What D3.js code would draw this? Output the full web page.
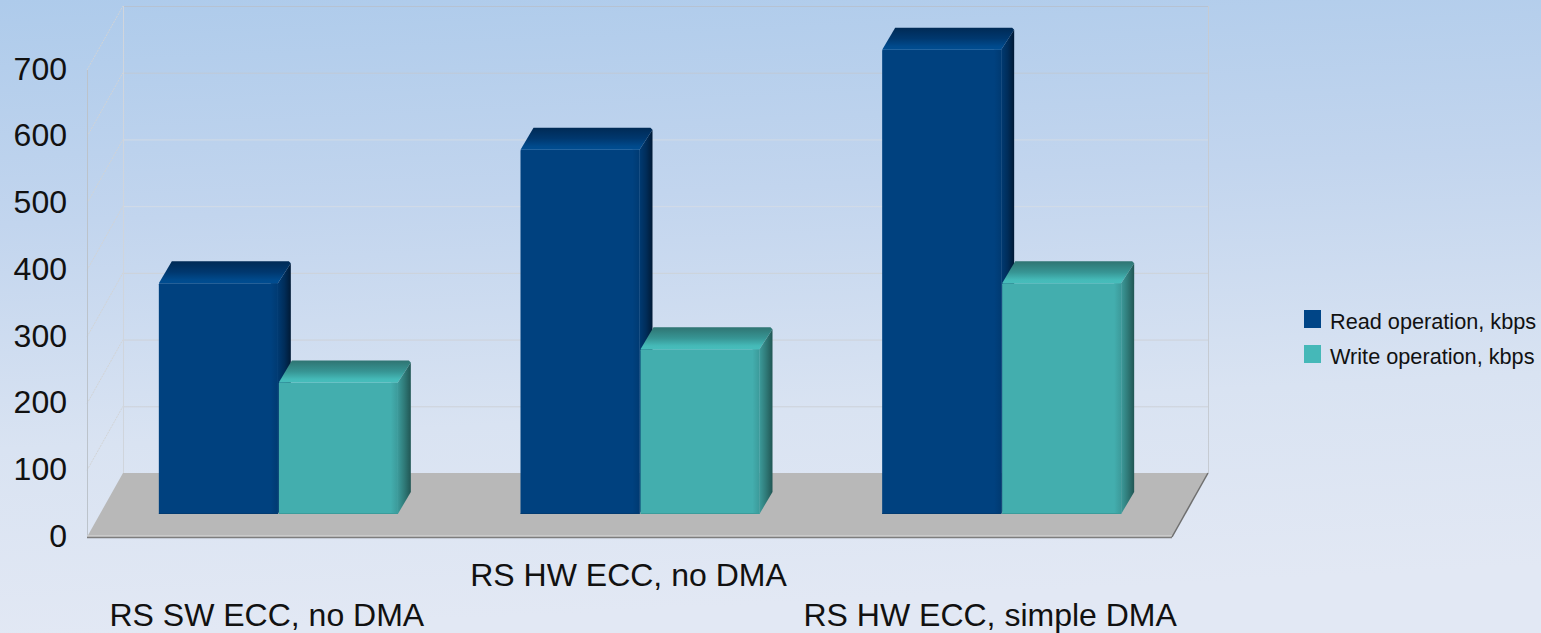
<!DOCTYPE html>
<html>
<head>
<meta charset="utf-8">
<script src="https://cdn.jsdelivr.net/npm/d3@7"></script>
<style>
html,body{margin:0;padding:0;overflow:hidden;background:#dfe7f3}
svg{display:block}
text{font-family:"Liberation Sans",Arial,sans-serif;fill:#111}
</style>
</head>
<body>
<script>
const categories = ["RS SW ECC, no DMA", "RS HW ECC, no DMA", "RS HW ECC, simple DMA"];
const seriesNames = ["Read operation, kbps", "Write operation, kbps"];
const readValues = [346, 546, 696];
const writeValues = [197, 247, 346];
const yTicks = [0, 100, 200, 300, 400, 500, 600, 700];

const W = 1541, H = 633;
const svg = d3.select("body").append("svg").attr("width", W).attr("height", H);
const defs = svg.append("defs");

// Layout of the box: front plane, wall depth and bar depth
const plot = {left: 87, right: 1172, bottom: 537, top: 70};
const wall = {dx: 36, dy: -64};
const bar = {inset: 12, rise: 23, dx: 13, dy: -22, groupWidth: 240, bevel: 7};

const y = d3.scaleLinear().domain([0, 700]).range([plot.bottom, plot.top]);
const x0 = d3.scaleBand().domain(categories).range([plot.left, plot.right]);
const x1 = d3.scaleBand().domain(seriesNames).range([0, bar.groupWidth]);
const barBase = plot.bottom - bar.rise;
const barH = v => y(0) - y(v);

function grad(id, x2, y2, stops) {
  const g = defs.append("linearGradient").attr("id", id)
    .attr("x1", 0).attr("y1", 0).attr("x2", x2).attr("y2", y2);
  stops.forEach(([o, c]) => g.append("stop").attr("offset", o).attr("stop-color", c));
}
grad("bg", 0.12, 1, [[0, "#aecbeb"], [0.35, "#c2d5ee"], [0.7, "#d9e3f2"], [1, "#e2e8f4"]]);
grad("readTop", 0, 1, [[0, "#002a55"], [0.5, "#00386f"], [0.85, "#004a8c"], [1, "#004c90"]]);
grad("readBevel", 1, 0, [[0, "#00417f"], [1, "#003a72"]]);
grad("readSide", 1, 0, [[0, "#003a72"], [0.5, "#002d5a"], [1, "#001a36"]]);
grad("writeTop", 0, 1, [[0, "#2f7472"], [0.5, "#379594"], [0.85, "#45bab8"], [1, "#47bdbb"]]);
grad("writeBevel", 1, 0, [[0, "#43aeae"], [1, "#3c9a9a"]]);
grad("writeSide", 1, 0, [[0, "#3c9a9a"], [0.5, "#2f7a78"], [1, "#215654"]]);

const palette = [
  {front: "#00417f", top: "url(#readTop)", side: "url(#readSide)", bevel: "url(#readBevel)", swatch: "#004587", edge: "#013a70"},
  {front: "#43aeae", top: "url(#writeTop)", side: "url(#writeSide)", bevel: "url(#writeBevel)", swatch: "#45b8b8", edge: "#3a9c9b"}
];

svg.append("rect").attr("width", W).attr("height", H).attr("fill", "url(#bg)");

// Walls and grid; the upper lines read darker against the deeper blue
const gridColor = d => d === 700 ? "#b6c2d2" : d === 600 ? "#bfc9d6" : d >= 400 ? "#d3dbe6" : "#cdd2d9";
const grid = svg.append("g").attr("fill", "none");
grid.selectAll("line.back").data(yTicks.slice(1)).join("line")
  .attr("x1", plot.left + wall.dx).attr("x2", plot.right + wall.dx)
  .attr("y1", d => y(d) + wall.dy + 0.5).attr("y2", d => y(d) + wall.dy + 0.5)
  .attr("stroke", gridColor);
grid.selectAll("line.side").data(yTicks.slice(1)).join("line")
  .attr("x1", plot.left).attr("x2", plot.left + wall.dx)
  .attr("y1", d => y(d)).attr("y2", d => y(d) + wall.dy)
  .attr("stroke", "#d2d4d6").attr("stroke-dasharray", "2 1");
[[plot.left + 0.5, y(0), y(700), "#bcc3cb"],
 [plot.left + wall.dx + 0.5, y(0) + wall.dy, y(700) + wall.dy, "#d0d5dc"],
 [plot.right + wall.dx + 0.5, y(0) + wall.dy, y(700) + wall.dy, "#c6cbd2"]].forEach(([px, a, b, c]) => {
  grid.append("line").attr("x1", px).attr("x2", px).attr("y1", a).attr("y2", b).attr("stroke", c);
});

// Floor
const floor = [[plot.left, y(0)], [plot.left + wall.dx, y(0) + wall.dy],
               [plot.right + wall.dx, y(0) + wall.dy], [plot.right, y(0)]];
svg.append("polygon").attr("points", floor.join(" ")).attr("fill", "#b8b8b8");
svg.append("line").attr("x1", plot.left).attr("x2", plot.right).attr("y1", y(0) - 1).attr("y2", y(0) - 1)
  .attr("stroke", "#dcdcdc").attr("stroke-width", 1);
svg.append("line").attr("x1", plot.left).attr("x2", plot.right).attr("y1", y(0) + 0.5).attr("y2", y(0) + 0.5)
  .attr("stroke", "#7d7d7d").attr("stroke-width", 1.5);
svg.append("line").attr("x1", plot.right).attr("x2", plot.right + wall.dx)
  .attr("y1", y(0)).attr("y2", y(0) + wall.dy)
  .attr("stroke", "#6f6f6f").attr("stroke-width", 1.5);

// Bars
const rows = categories.flatMap((c, i) => [
  {c, s: seriesNames[0], v: readValues[i], k: 0},
  {c, s: seriesNames[1], v: writeValues[i], k: 1}
]);
const barLeft = d => x0(d.c) + (x0.bandwidth() - bar.groupWidth) / 2 + bar.inset + x1(d.s) - 1;
const barRight = d => barLeft(d) + x1.bandwidth() - 1;
const barTop = d => barBase - barH(d.v);

const bars = svg.append("g").selectAll("g").data(rows).join("g");
bars.append("rect")
  .attr("x", barLeft).attr("y", barTop)
  .attr("width", d => barRight(d) - barLeft(d)).attr("height", d => barBase - barTop(d))
  .attr("rx", 1).attr("fill", d => palette[d.k].front);
bars.append("rect")
  .attr("x", d => barRight(d) - bar.bevel).attr("y", barTop)
  .attr("width", bar.bevel).attr("height", d => barBase - barTop(d))
  .attr("fill", d => palette[d.k].bevel);
bars.append("polygon")
  .attr("points", d => [[barLeft(d), barTop(d)], [barLeft(d) + bar.dx, barTop(d) + bar.dy],
                        [barRight(d) + bar.dx - 2, barTop(d) + bar.dy], [barRight(d) + bar.dx, barTop(d) + bar.dy + 2],
                        [barRight(d), barTop(d)]].join(" "))
  .attr("fill", d => palette[d.k].top);
bars.append("polygon")
  .attr("points", d => [[barRight(d), barBase], [barRight(d) + bar.dx, barBase + bar.dy],
                        [barRight(d) + bar.dx, barTop(d) + bar.dy + 2], [barRight(d), barTop(d)]].join(" "))
  .attr("fill", d => palette[d.k].side);
bars.append("line")
  .attr("x1", barLeft).attr("x2", barRight)
  .attr("y1", barBase - 0.5).attr("y2", barBase - 0.5)
  .attr("stroke", d => palette[d.k].edge);

// Value axis
const axis = svg.append("g").attr("transform", "translate(67,-1)")
  .call(d3.axisLeft(y).tickValues(yTicks).tickSize(0).tickPadding(0));
axis.select(".domain").remove();
axis.selectAll("text").style("font-family", '"Liberation Sans",Arial,sans-serif')
  .attr("font-size", 32).attr("fill", "#111");

// Category labels, staggered on two rows
svg.append("g").selectAll("text").data(categories).join("text")
  .attr("x", d => x0(d) + x0.bandwidth() / 2 - 1)
  .attr("y", (d, i) => i % 2 ? 586 : 626)
  .attr("text-anchor", "middle").attr("font-size", 32)
  .text(d => d);

// Legend
const legend = svg.append("g").selectAll("g").data(seriesNames).join("g")
  .attr("transform", (d, i) => `translate(1304,${310 + i * 35})`);
legend.append("rect").attr("width", 17).attr("height", 18).attr("fill", (d, i) => palette[i].swatch);
legend.append("text").attr("x", 26).attr("y", 19).attr("font-size", 21.7).text(d => d);
</script>
</body>
</html>
